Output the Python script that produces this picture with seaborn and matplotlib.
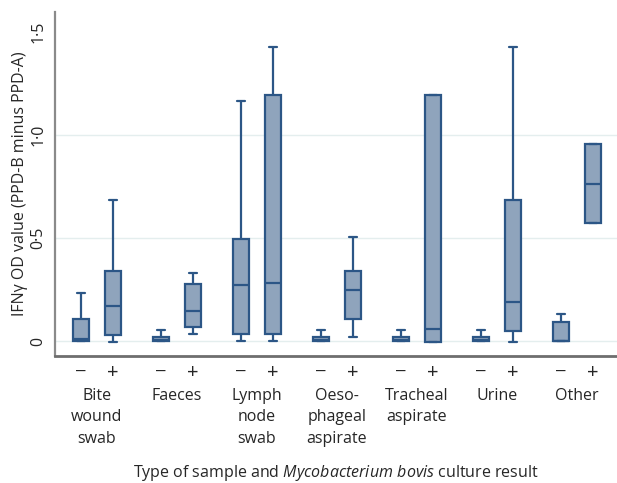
import pandas as pd
import numpy as np
import seaborn as sns
import matplotlib.pyplot as plt

# box summaries: min, q1, median, q3, max
samples = ["Bite\nwound\nswab", "Faeces", "Lymph\nnode\nswab", "Oeso-\nphageal\naspirate",
           "Tracheal\naspirate", "Urine", "Other"]
results = ["\u2212", "+"]

neg_stats = [
    [0.0, 0.0, 0.01, 0.107, 0.233],     # bite wound swab
    [0.0, 0.0, 0.005, 0.02, 0.053],     # faeces
    [0.0, 0.034, 0.27, 0.495, 1.165],   # lymph node swab
    [0.0, 0.0, 0.005, 0.02, 0.053],     # oesophageal aspirate
    [0.0, 0.0, 0.005, 0.02, 0.053],     # tracheal aspirate
    [0.0, 0.0, 0.005, 0.02, 0.053],     # urine
    [0.0, 0.0, 0.0, 0.092, 0.131],      # other
]
pos_stats = [
    [-0.005, 0.03, 0.17, 0.34, 0.685],
    [0.034, 0.068, 0.146, 0.277, 0.33],
    [0.0, 0.034, 0.28, 1.194, 1.427],
    [0.02, 0.107, 0.248, 0.34, 0.505],
    [-0.005, -0.005, 0.058, 1.195, 1.195],
    [-0.005, 0.049, 0.19, 0.684, 1.427],
    [0.573, 0.573, 0.762, 0.956, 0.956],
]

rows = []
for s, neg, pos in zip(samples, neg_stats, pos_stats):
    for v in neg:
        rows.append((s, results[0], v))
    for v in pos:
        rows.append((s, results[1], v))
df = pd.DataFrame(rows, columns=["sample", "result", "value"])

sns.set_style("white")
plt.rcParams['font.family'] = ['Open Sans', 'DejaVu Sans']
plt.rcParams['mathtext.fontset'] = 'custom'
plt.rcParams['mathtext.rm'] = 'Open Sans'
plt.rcParams['mathtext.it'] = 'Open Sans:italic'

fill = "#8fa4bc"
edge = "#2c5686"
txt = "#262626"

fig = plt.figure(figsize=(6.17, 4.83), dpi=100)
ax = fig.add_axes([0.089, 0.263, 0.911, 0.712])

for yv in [0, 0.5, 1.0]:
    ax.axhline(yv, color="#e4eeee", lw=1, zorder=0)

sns.boxplot(data=df, x="sample", y="value", hue="result", order=samples,
            hue_order=results, palette={r: fill for r in results}, saturation=1,
            width=0.8, gap=0.5, whis=(0, 100), showfliers=False,
            linecolor=edge, linewidth=1.6, legend=False, ax=ax)

ax.set_xlim(-0.525, 6.5)
ax.set_ylim(-0.073, 1.597)

ticks = []
labels = []
for i in range(len(samples)):
    ticks += [i - 0.2, i + 0.2]
    labels += results
ax.set_xticks(ticks)
ax.set_xticklabels(labels, fontsize=14.5, color=txt)
ax.tick_params(axis="x", length=0, pad=5)

for i, s in enumerate(samples):
    ax.annotate(s, xy=(i, 0), xycoords=("data", "axes fraction"),
                xytext=(0, -32), textcoords="offset pixels",
                ha="center", va="top", fontsize=11.5, linespacing=1.45,
                color=txt)

ax.set_yticks([0, 0.5, 1.0, 1.5])
ax.set_yticklabels(["0", "0\u00b75", "1\u00b70", "1\u00b75"], rotation=90,
                   va="center", fontsize=11.5, color=txt)
ax.tick_params(axis="y", length=0, pad=6)

ax.set_ylabel("IFN\u03b3 OD value (PPD-B minus PPD-A)", fontsize=11.5,
              color=txt, labelpad=2)
ax.set_xlabel(r"Type of sample and $\it{Mycobacterium\ bovis}$ culture result",
              fontsize=11.5, color=txt, labelpad=0)
ax.xaxis.set_label_coords(0.5, -0.31)

for side in ["top", "right"]:
    ax.spines[side].set_visible(False)
ax.spines["left"].set_color("#8a8a8a")
ax.spines["left"].set_linewidth(1.6)
ax.spines["bottom"].set_color("#6e6e6e")
ax.spines["bottom"].set_linewidth(2)

fig.savefig("out.png", dpi=100)
